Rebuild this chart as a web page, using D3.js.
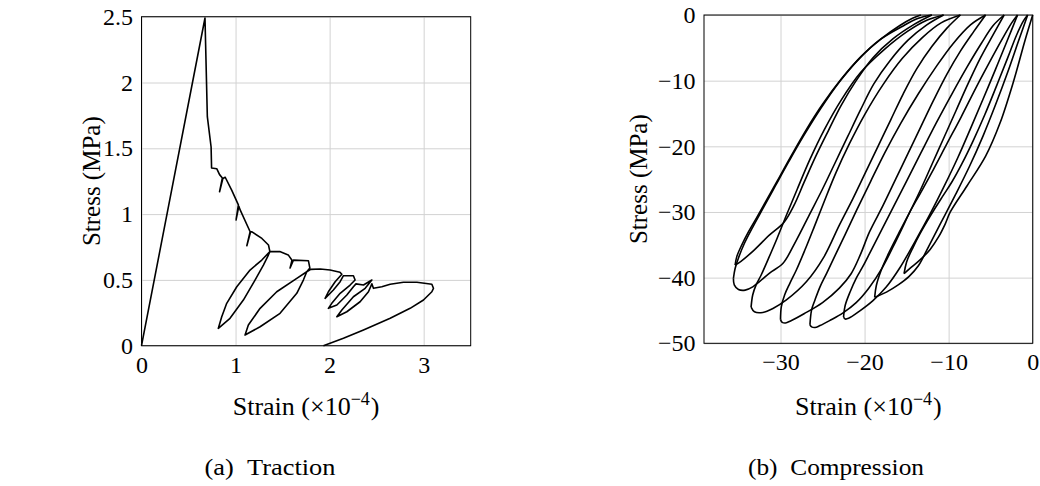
<!DOCTYPE html>
<html>
<head>
<meta charset="utf-8">
<script src="https://cdn.jsdelivr.net/npm/d3@7"></script>
<style>
  body { margin: 0; background: #fff; }
  text { font-family: "Liberation Serif", "Times New Roman", serif; fill: #000; }
</style>
</head>
<body>
<div id="chart"></div>
<script>
// tick values
const tractionXTicks = [0, 1, 2, 3];
const tractionYTicks = [0, 0.5, 1, 1.5, 2, 2.5];
const compXTicks = [-30, -20, -10, 0];
const compYTicks = [0, -10, -20, -30, -40, -50];

// (a) traction: [strain (x1e-4), stress (MPa)]
const traction = [
  [0, 0], [0.675, 2.49], [0.70, 1.74], [0.74, 1.51], [0.745, 1.35], [0.80, 1.345],
  [0.83, 1.30], [0.86, 1.275], [0.83, 1.17], [0.865, 1.27], [0.89, 1.28], [0.96, 1.18],
  [1.03, 1.07], [1.005, 0.955], [1.035, 1.06], [1.05, 1.03], [1.155, 0.866], [1.12, 0.76],
  [1.16, 0.865], [1.175, 0.865], [1.28, 0.815], [1.35, 0.765], [1.365, 0.715],
  [1.279, 0.651], [1.154, 0.575], [1.013, 0.448], [0.906, 0.322], [0.853, 0.22], [0.817, 0.132],
  [0.941, 0.208], [1.083, 0.347], [1.207, 0.499], [1.296, 0.613], [1.349, 0.689], [1.365, 0.715],
  [1.47, 0.715], [1.56, 0.69], [1.60, 0.65], [1.58, 0.59], [1.615, 0.65], [1.775, 0.645],
  [1.79, 0.59], [1.757, 0.562],
  [1.651, 0.512], [1.438, 0.41], [1.261, 0.284], [1.136, 0.157], [1.101, 0.081],
  [1.261, 0.144], [1.473, 0.246], [1.651, 0.398], [1.721, 0.499], [1.757, 0.562],
  [1.80, 0.58], [1.90, 0.583], [2.005, 0.575], [2.11, 0.558], [2.13, 0.543],
  [2.059, 0.486], [1.987, 0.41], [1.952, 0.36], [2.04, 0.423], [2.112, 0.486], [2.147, 0.532],
  [2.253, 0.532], [2.271, 0.499],
  [2.218, 0.461], [2.112, 0.398], [2.023, 0.322], [1.987, 0.284], [2.077, 0.309], [2.183, 0.385],
  [2.253, 0.448], [2.28, 0.47], [2.36, 0.461], [2.449, 0.499],
  [2.378, 0.436], [2.253, 0.372], [2.13, 0.271], [2.077, 0.22], [2.183, 0.258], [2.324, 0.334],
  [2.413, 0.41], [2.449, 0.47], [2.466, 0.436],
  [2.555, 0.448], [2.644, 0.467], [2.785, 0.482], [2.928, 0.482], [3.087, 0.467], [3.104, 0.436],
  [3.087, 0.41], [2.998, 0.347], [2.856, 0.284], [2.644, 0.208], [2.36, 0.119], [2.147, 0.056],
  [1.934, 0]
];

// (b) compression cycles: loading branch then unloading branch, [strain (x1e-4), stress (MPa)]
const loadA = [[0,0],[-0.9,-3.8],[-2.3,-10.2],[-3.9,-16.5],[-5.6,-21.5],[-7.8,-26],[-9.8,-30],[-10.4,-31.8],[-11.2,-33.8],[-12.2,-35.7],[-13.4,-37.3],[-14.6,-38.6],[-15.3,-39.4]];
const unloadA = [[-15.3,-39.4],[-15.0,-37.6],[-14.2,-35.3],[-13.4,-33.3],[-12.6,-31.5],[-11.6,-29.4],[-10.6,-27.4],[-9.6,-25.4],[-8.4,-22.6],[-7.1,-19.2],[-5.7,-15.2],[-4.3,-10.8],[-3.0,-6.6],[-1.9,-3.0],[-1.1,-0.9],[-0.6,0]];
const loadB = [[-0.6,0],[-1.7,-4],[-3.0,-8.8],[-4.4,-13.6],[-5.9,-18.4],[-7.5,-23],[-9.2,-27.4],[-10.9,-31.6],[-12.4,-35.3],[-13.6,-38.2],[-14.7,-39.8],[-16.0,-41.1],[-17.4,-42.2],[-18.8,-43.0]];
const unloadB = [[-18.8,-43],[-18.6,-41.2],[-18.0,-38.8],[-17.1,-36.2],[-16.0,-33.4],[-14.7,-30.2],[-13.3,-27],[-11.8,-23.5],[-10.2,-19.6],[-8.5,-15.5],[-6.8,-11.2],[-5.1,-7.1],[-3.6,-3.6],[-2.5,-1.2],[-1.8,0]];
const loadC = [[-1.8,0],[-3.0,-3.8],[-4.4,-8.2],[-5.9,-12.8],[-7.4,-17.3],[-8.9,-21.7],[-10.5,-26],[-12.2,-30.3],[-14.0,-34.5],[-15.8,-38.5],[-17.4,-41.4],[-19.0,-43.5],[-20.6,-45.1],[-21.9,-46.2],[-22.3,-46.3],[-22.5,-46.0]];
const unloadC = [[-22.5,-46],[-22.3,-44.2],[-21.7,-42.1],[-21.0,-40.1],[-20.2,-38.3],[-19.2,-35.8],[-18.0,-32.8],[-16.6,-29.3],[-15.0,-25.3],[-13.3,-21],[-11.5,-16.5],[-9.6,-12],[-7.8,-7.9],[-6.1,-4.3],[-4.7,-1.6],[-3.4,0]];
const loadD = [[-3.4,0],[-4.7,-3],[-6.2,-6.5],[-7.7,-10.5],[-9.1,-14.5],[-10.5,-18.5],[-11.9,-22.5],[-13.3,-26.5],[-14.8,-30.5],[-16.3,-34.5],[-17.9,-38.5],[-19.5,-41.6],[-21.0,-43.8],[-22.6,-45.4],[-24.1,-46.5],[-25.3,-47.3],[-25.9,-47.6],[-26.3,-47.5],[-26.5,-47.2]];
const unloadD = [[-26.5,-47.2],[-26.3,-44.9],[-25.9,-43.4],[-25.3,-41.4],[-24.5,-39.3],[-23.5,-36.6],[-22.3,-33.4],[-20.9,-29.6],[-19.3,-25.4],[-17.6,-21],[-15.7,-16.5],[-13.6,-12],[-11.5,-7.9],[-9.5,-4.4],[-7.4,-1.5],[-5.6,0]];
const loadE = [[-5.6,0],[-7.0,-2.5],[-8.6,-5.5],[-10.2,-9],[-11.8,-13],[-13.3,-17],[-14.8,-21],[-16.3,-25],[-17.8,-29],[-19.4,-33],[-20.5,-36.5],[-21.6,-39.4],[-23.0,-41.6],[-25.0,-43.8],[-27.2,-45.5],[-28.8,-46.6],[-29.4,-46.9],[-29.8,-46.8],[-30.0,-46.4]];
const unloadE = [[-30,-46.4],[-29.9,-44.4],[-29.5,-42.6],[-28.9,-40.9],[-28.1,-38.8],[-27.1,-35.8],[-26.0,-32.3],[-24.8,-28.4],[-23.4,-24],[-21.8,-19.6],[-20.0,-15.2],[-17.8,-10.6],[-15.5,-6.6],[-13.1,-3.4],[-10.9,-1.2],[-8.6,0]];
const loadF = [[-8.6,0],[-10.2,-2],[-12.0,-4.8],[-13.8,-8.2],[-15.4,-12],[-16.9,-16],[-18.4,-20],[-19.9,-24],[-21.4,-28],[-23.0,-32],[-24.9,-37],[-26.9,-40.6],[-29.3,-43.4],[-30.9,-44.7],[-32.1,-45.3],[-33.1,-45.2],[-33.5,-44.5]];
const unloadF = [[-33.5,-44.5],[-33.3,-42.6],[-32.9,-41.1],[-32.3,-39.6],[-31.4,-37],[-30.4,-34],[-29.3,-30.5],[-28.0,-26.5],[-26.5,-22],[-24.8,-17.5],[-22.8,-13],[-20.5,-8.8],[-17.6,-5.2],[-14.9,-2.5],[-12.6,-0.8],[-10.6,0]];
const loadG = [[-10.6,0],[-12.6,-1.5],[-14.8,-3.8],[-17.0,-7],[-18.9,-10.5],[-20.5,-14.5],[-22.0,-18.5],[-23.5,-22.5],[-25.0,-26.5],[-26.6,-30.5],[-28.2,-34.5],[-29.7,-37.8],[-31.3,-39.3],[-32.5,-40.6],[-33.3,-41.4],[-34.2,-41.9],[-35.0,-41.8],[-35.5,-41.1],[-35.6,-40.1]];
const unloadG = [[-35.6,-40.1],[-35.4,-38.6],[-35.0,-37],[-34.3,-34.8],[-33.3,-32.3],[-32.1,-29.5],[-30.6,-26],[-29.0,-22.3],[-27.2,-18.3],[-25.2,-14.2],[-23.0,-10.2],[-20.6,-6.6],[-18.2,-3.8],[-15.6,-1.8],[-13.6,-0.5],[-12.0,0]];
const loadH = [[-12.0,0],[-14.2,-1.5],[-16.6,-3.6],[-19.0,-6.5],[-21.0,-10],[-22.8,-13.8],[-24.3,-17.6],[-25.8,-21.5],[-27.2,-25.5],[-28.4,-29],[-29.6,-31.6],[-31.3,-33.5],[-33.3,-36],[-35.0,-37.8],[-35.4,-38.1]];
const unloadH = [[-35.4,-38.1],[-35.2,-36.8],[-34.6,-35],[-33.8,-33],[-32.9,-31],[-31.8,-28.5],[-30.4,-25.3],[-28.8,-21.6],[-27.0,-17.6],[-25.0,-13.6],[-22.8,-9.8],[-20.4,-6.3],[-18.0,-3.6],[-15.8,-1.6],[-14.3,-0.5],[-13.3,0]];

const compBranches = [loadA, unloadA, loadB, unloadB, loadC, unloadC, loadD, unloadD,
                      loadE, unloadE, loadF, unloadF, loadG, unloadG, loadH, unloadH];

const width = 1040, height = 486;
const fontSize = 24;

const svg = d3.select("#chart").append("svg")
    .attr("width", width)
    .attr("height", height)
    .style("background", "#fff");

// grid, tick labels and frame for one panel
function drawAxes(x, y, xTicks, yTicks, xFmt, yFmt) {
  const [x0, x1] = x.range(), [y0, y1] = y.range();

  const gx = svg.append("g")
      .attr("transform", `translate(0,${y0})`)
      .call(d3.axisBottom(x).tickValues(xTicks).tickSize(-(y0 - y1)).tickPadding(10).tickFormat(xFmt));
  const gy = svg.append("g")
      .attr("transform", `translate(${x0},0)`)
      .call(d3.axisLeft(y).tickValues(yTicks).tickSize(-(x1 - x0)).tickPadding(8.5).tickFormat(yFmt));

  [gx, gy].forEach(g => {
    g.attr("font-family", null).attr("font-size", fontSize);
    g.select(".domain").remove();
    g.selectAll(".tick line").attr("stroke", "#d2d2d2").attr("stroke-width", 1);
  });

  svg.append("rect")
      .attr("x", x0).attr("y", y1)
      .attr("width", x1 - x0).attr("height", y0 - y1)
      .attr("fill", "none").attr("stroke", "#000").attr("stroke-width", 1);
}

function axisLabels(cx, cy, yLabelX, xLabelY) {
  const t = svg.append("text")
      .attr("x", cx).attr("y", xLabelY)
      .attr("text-anchor", "middle")
      .attr("font-size", 26);
  t.append("tspan").text("Strain (×10");
  t.append("tspan").attr("font-size", 18).attr("dy", -10).text("−4");
  t.append("tspan").attr("dy", 10).attr("dx", 1).text(")");

  svg.append("text")
      .attr("transform", `translate(${yLabelX},${cy}) rotate(-90)`)
      .attr("text-anchor", "middle")
      .attr("font-size", 25)
      .text("Stress (MPa)");
}

function caption(cx, label, len) {
  svg.append("text")
      .attr("x", cx).attr("y", 475)
      .attr("text-anchor", "middle")
      .attr("font-size", 22.5)
      .attr("textLength", len)
      .attr("lengthAdjust", "spacingAndGlyphs")
      .text(label);
}

// ---- (a) Traction ----
const xT = d3.scaleLinear().domain([0, 3.5]).range([141.5, 470.7]);
const yT = d3.scaleLinear().domain([0, 2.5]).range([345.7, 16.7]);

drawAxes(xT, yT, tractionXTicks, tractionYTicks, d3.format("d"), d => String(d));

const lineT = d3.line().x(d => xT(d[0])).y(d => yT(d[1]));
svg.append("path")
    .datum(traction)
    .attr("d", lineT)
    .attr("fill", "none")
    .attr("stroke", "#000")
    .attr("stroke-width", 1.6)
    .attr("stroke-linejoin", "round");

axisLabels((141.5 + 470.7) / 2, (16.7 + 345.7) / 2, 100, 415);
caption(270, "(a)\u2002Traction", 131);

// ---- (b) Compression ----
const xC = d3.scaleLinear().domain([-39.1, 0]).range([704, 1032.7]);
const yC = d3.scaleLinear().domain([-50, 0]).range([343.3, 15]);

drawAxes(xC, yC, compXTicks, compYTicks, d3.format("d"), d3.format("d"));

const lineC = d3.line()
    .x(d => xC(d[0])).y(d => yC(d[1]))
    .curve(d3.curveCatmullRom.alpha(0.5));
svg.append("g").selectAll("path")
    .data(compBranches)
    .enter().append("path")
    .attr("d", lineC)
    .attr("fill", "none")
    .attr("stroke", "#000")
    .attr("stroke-width", 1.6)
    .attr("stroke-linejoin", "round");

axisLabels((704 + 1032.7) / 2, (15 + 343.3) / 2, 647, 415);
caption(836, "(b)\u2002Compression", 176);
</script>
</body>
</html>
